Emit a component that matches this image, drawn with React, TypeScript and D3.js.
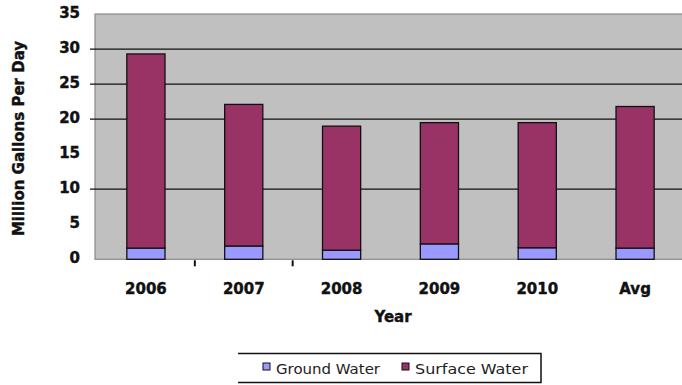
import React from "react";
import * as d3 from "d3";

// Water withdrawals by year, million gallons per day
const years = ["2006", "2007", "2008", "2009", "2010", "Avg"];
const groundWater = [1.6, 1.9, 1.3, 2.2, 1.65, 1.6];
const surfaceWater = [27.7, 20.2, 17.7, 17.3, 17.85, 20.2];
const yTicks = [0, 5, 10, 15, 20, 25, 30, 35];
const gridValues = [10, 20, 25, 30];
const seriesNames = ["Ground Water", "Surface Water"];
const seriesColors = ["#9999FF", "#993366"];

const W = 682;
const H = 385;
const plot = { left: 95, right: 690, top: 14, bottom: 259.3 };

export default function App() {
  const x = d3
    .scaleBand<string>()
    .domain(years)
    .range([97, 684])
    .paddingInner(0.61)
    .paddingOuter(0.305);
  const y = d3.scaleLinear().domain([0, 35]).range([plot.bottom, plot.top]);

  const rows = years.map((yr, i) => ({
    year: yr,
    ground: groundWater[i],
    surface: surfaceWater[i],
  }));
  const stack = d3.stack<any>().keys(["ground", "surface"])(rows);

  const step = x.step();
  const boundaries = [0, 1].map(
    (i) => (x(years[i]) as number) + x.bandwidth() + (step - x.bandwidth()) / 2
  );

  const font = "'DejaVu Sans', Verdana, sans-serif";
  const boldText = {
    fontFamily: font,
    fontWeight: "bold" as const,
    fontSize: 15,
    fill: "#111",
    stroke: "#111",
    strokeWidth: 0.4,
  };

  return (
    <svg
      width={W}
      height={H}
      style={{ position: "absolute", left: 0, top: 0, background: "#fff" }}
    >
      <rect
        x={plot.left}
        y={plot.top}
        width={plot.right - plot.left}
        height={plot.bottom - plot.top}
        fill="#C0C0C0"
        stroke="#8a8a8a"
        strokeWidth={1.2}
      />
      {gridValues.map((v) => (
        <line
          key={v}
          x1={90}
          x2={plot.right}
          y1={y(v)}
          y2={y(v)}
          stroke="#111"
          strokeWidth={1.3}
        />
      ))}
      {stack.map((layer, si) =>
        layer.map((d, i) => (
          <rect
            key={`${si}-${i}`}
            x={x(years[i])}
            y={y(d[1])}
            width={x.bandwidth()}
            height={y(d[0]) - y(d[1])}
            fill={seriesColors[si]}
            stroke="#111"
            strokeWidth={1.3}
          />
        ))
      )}
      {boundaries.map((bx, i) => (
        <line
          key={i}
          x1={bx}
          x2={bx}
          y1={plot.bottom + 1}
          y2={plot.bottom + 7}
          stroke="#111"
          strokeWidth={2}
        />
      ))}
      {yTicks.map((v) => (
        <text
          key={v}
          x={80}
          y={y(v) - 1}
          textAnchor="end"
          dominantBaseline="central"
          {...boldText}
        >
          {v}
        </text>
      ))}
      {years.map((yr) => (
        <text
          key={yr}
          x={(x(yr) as number) + x.bandwidth() / 2}
          y={294}
          textAnchor="middle"
          {...boldText}
        >
          {yr}
        </text>
      ))}
      <text x={393} y={322} textAnchor="middle" {...boldText}>
        Year
      </text>
      <text
        transform="translate(24,138.5) rotate(-90)"
        textAnchor="middle"
        {...boldText}
      >
        Million Gallons Per Day
      </text>
      {/* legend */}
      <path
        d="M238,353.5 H541 V382.5 H238"
        fill="none"
        stroke="#111"
        strokeWidth={1.5}
      />
      {seriesNames.map((name, i) => {
        const mx = [263, 402][i];
        return (
          <g key={name}>
            <rect
              x={mx}
              y={363}
              width={7}
              height={7}
              fill={seriesColors[i]}
              stroke="#111"
              strokeWidth={1}
            />
            <text
              x={mx + 13}
              y={373.5}
              fontFamily={font}
              fontSize={14}
              fill="#222"
              textLength={[104, 113][i]}
              lengthAdjust="spacingAndGlyphs"
            >
              {name}
            </text>
          </g>
        );
      })}
    </svg>
  );
}
